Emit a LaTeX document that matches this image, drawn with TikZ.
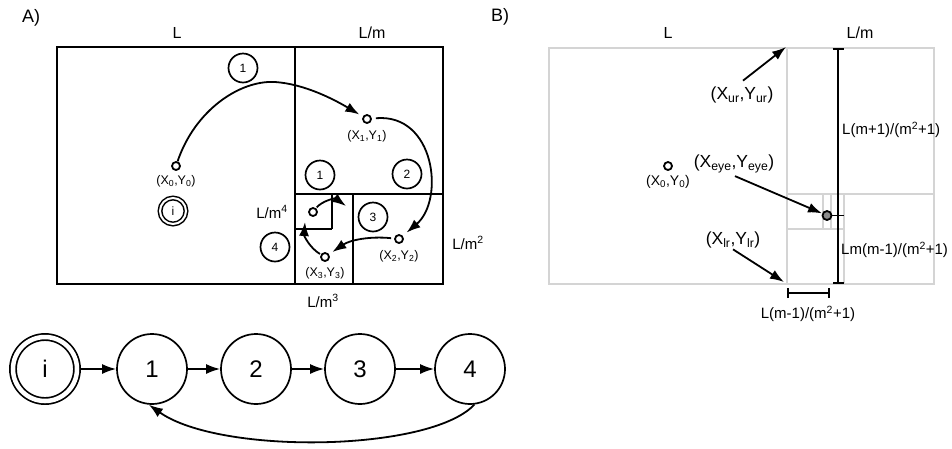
\documentclass[tikz,border=0pt]{standalone}
\usepackage{fontspec}
\setmainfont{Liberation Sans}
\usetikzlibrary{arrows.meta}
\newcommand\myfs[1]{\fontsize{#1}{#1}\selectfont}
\begin{document}
\begin{tikzpicture}[x=1pt,y=-1pt,
  blk/.style={line width=2.1pt},
  gry/.style={line width=1.9pt,draw=black!17},
  arr/.style={line width=1.8pt,-{Latex[length=14pt,width=10pt]}},
  pt/.style={circle,draw,line width=1.8pt,fill=white,inner sep=0pt,minimum size=8pt},
  sc/.style={circle,draw,line width=1.7pt,minimum size=29pt,inner sep=0pt,font=\myfs{12}},
  bc/.style={circle,draw,line width=1.7pt,minimum size=70pt,inner sep=0pt,font=\myfs{24}},
  lab/.style={inner sep=1pt,font=\myfs{12.5}},
  labm/.style={inner sep=1pt,font=\myfs{14}},
  labb/.style={inner sep=1pt,font=\myfs{17.5}},
  dim/.style={inner sep=1pt,font=\myfs{15}},
  hdr/.style={inner sep=1pt,font=\myfs{16}},
  ttl/.style={inner sep=1pt,font=\myfs{18}}
]
\useasboundingbox (0,0) rectangle (952,448);

% ---------- Panel A ----------
\node[ttl] (tA) at (31,18) {A)};
\node[hdr] (hAL) at (177,33) {L};
\node[hdr] (hAm) at (372,33) {L/m};

\draw[blk] (57,47) rectangle (443,284);
\draw[blk] (295,47) -- (295,284);
\draw[blk] (295,194) -- (443,194);
\draw[blk] (353,194) -- (353,284);
\draw[blk] (295,229) -- (332,229);
\draw[blk] (332,194) -- (332,229);

\node[dim] (m4) at (272,212) {L/m\textsuperscript{4}};
\node[dim] (m2) at (468,243) {L/m\textsuperscript{2}};
\node[dim] (m3) at (323,301) {L/m\textsuperscript{3}};

\node[sc] (c1a) at (243,68) {1};
\node[sc] (c1b) at (320,175) {1};
\node[sc] (c2) at (407,174) {2};
\node[sc] (c3) at (373,217) {3};
\node[sc] (c4) at (275,247) {4};
\node[circle,draw,line width=1.5pt,double,double distance=2pt,minimum size=26pt,inner sep=0pt,font=\myfs{12}] (ai) at (173,211) {i};

\node[pt] (a0) at (176,166) {};
\node[pt] (a1) at (367,119) {};
\node[pt] (a2) at (399,239) {};
\node[pt] (a3) at (325,257) {};
\node[pt] (a4) at (313,212) {};
\node[lab] (la0) at (176,181) {(X\textsubscript{0},Y\textsubscript{0})};
\node[lab] (la1) at (367,136) {(X\textsubscript{1},Y\textsubscript{1})};
\node[lab] (la2) at (399,256) {(X\textsubscript{2},Y\textsubscript{2})};
\node[lab] (la3) at (325,273) {(X\textsubscript{3},Y\textsubscript{3})};

\coordinate (t4) at (305,222);
\coordinate (t5) at (346,206);
\draw[arr,shorten >=4pt] (a0) .. controls (195,110) and (240,80) .. (275,82) .. controls (305,84) and (335,100) .. (a1);
\draw[arr,shorten <=4pt,shorten >=5pt] (a1) .. controls (435,113) and (445,200) .. (a2);
\draw[arr,shorten <=3pt,shorten >=4pt] (a2) .. controls (370,236) and (350,240) .. (a3);
\draw[arr,shorten <=1pt] (a3) .. controls (310,248) and (304,236) .. (t4);
\draw[arr,shorten <=1pt] (a4) .. controls (322,201) and (335,198) .. (t5);

% ---------- Bottom state chain ----------
\node[bc,double,double distance=4.5pt,minimum size=64pt,outer sep=4pt] (bi) at (45,369) {i};
\node[bc] (b1) at (152,369) {1};
\node[bc] (b2) at (256,369) {2};
\node[bc] (b3) at (360,369) {3};
\node[bc] (b4) at (470,369) {4};
\draw[arr] (bi) -- (b1);
\draw[arr] (b1) -- (b2);
\draw[arr] (b2) -- (b3);
\draw[arr] (b3) -- (b4);
\draw[arr] (b4.-83) .. controls (430,452) and (220,455) .. (b1.-95);

% ---------- Panel B ----------
\node[ttl] (tB) at (500,17) {B)};
\node[hdr] (hBL) at (668,33) {L};
\node[hdr] (hBm) at (860,33) {L/m};

\draw[gry] (549,48) rectangle (934,284);
\draw[gry] (787,48) -- (787,284);
\draw[gry] (787,194) -- (934,194);
\draw[gry] (844,194) -- (844,284);
\draw[gry] (787,229) -- (844,229);
\draw[gry] (823,194) -- (823,229);
\draw[gry] (831,194) -- (831,229);

\draw[line width=1.9pt,{Bar[width=11pt]}-{Bar[width=11pt]}] (838,48) -- (838,284);
\draw[line width=1.9pt] (832,215.5) -- (844,215.5);
\draw[line width=1.9pt,{Bar[width=10pt]}-{Bar[width=10pt]}] (787,293) -- (830,293);

\node[dim,anchor=west] (dv1) at (841,130) {L(m+1)/(m\textsuperscript{2}+1)};
\node[dim,anchor=west] (dv2) at (840,250) {Lm(m-1)/(m\textsuperscript{2}+1)};
\node[dim] (dh) at (808,314) {L(m-1)/(m\textsuperscript{2}+1)};

\node[pt] (b0) at (668,166) {};
\node[labm] (lb0) at (668,182) {(X\textsubscript{0},Y\textsubscript{0})};
\node[pt,fill=black!45,minimum size=9pt] (pe) at (827,215.5) {};

\node[labb] (lur) at (742,95) {(X\textsubscript{ur},Y\textsubscript{ur})};
\node[labb] (lye) at (734,164) {(X\textsubscript{eye},Y\textsubscript{eye})};
\node[labb] (llr) at (733,240) {(X\textsubscript{lr},Y\textsubscript{lr})};
\coordinate (ur) at (786,47);
\coordinate (lr) at (784,282);
\draw[arr] ([shift={(1,-5)}]lur.north) -- (ur);
\draw[arr] ([shift={(1,2)}]lye.south) -- (pe);
\draw[arr] (llr.south) -- (lr);
\end{tikzpicture}
\end{document}
